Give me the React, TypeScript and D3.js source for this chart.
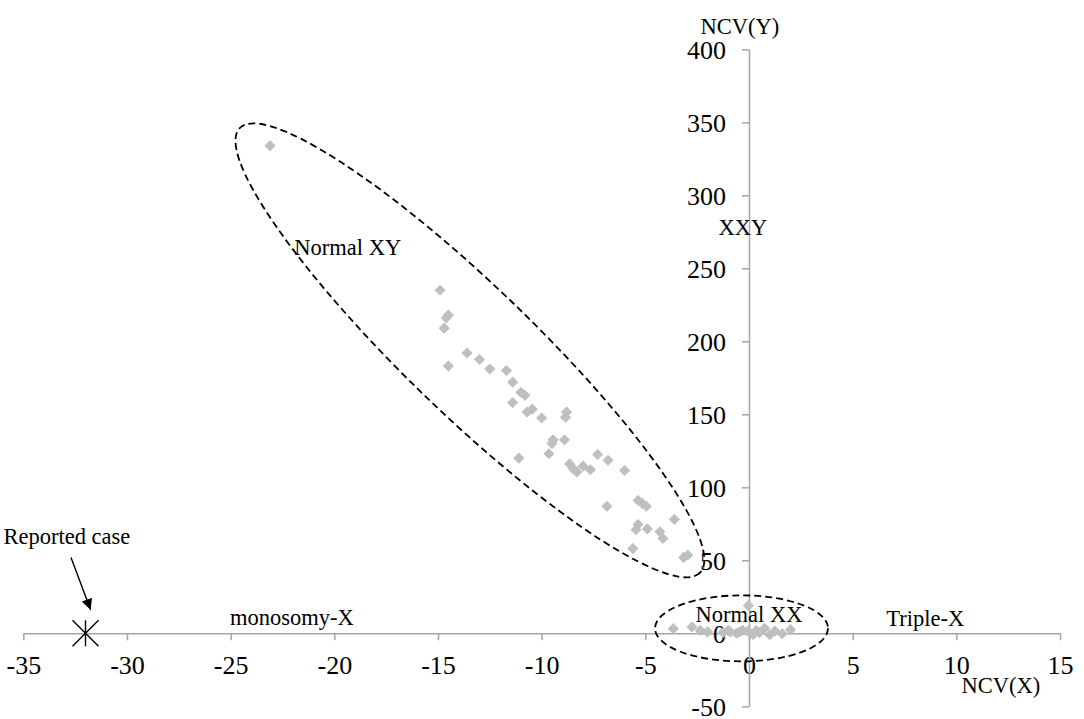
import React, { useEffect, useRef } from "react";
import * as d3 from "d3";

// NCV(X), NCV(Y) pairs
const normalXY: [number, number][] = [
  [-23.1, 334], [-14.9, 235], [-14.5, 218], [-14.6, 216], [-14.7, 209],
  [-14.5, 183], [-13.6, 192], [-13.0, 187.5], [-12.5, 181], [-11.7, 180],
  [-11.4, 172], [-11.0, 165], [-10.8, 163], [-11.4, 158], [-10.7, 151.5],
  [-10.45, 153.5], [-10.0, 147.5], [-8.8, 151.5], [-8.85, 148], [-9.45, 132.5],
  [-9.5, 130], [-8.9, 132.5], [-9.65, 123], [-11.1, 120], [-8.65, 116],
  [-8.5, 113], [-8.3, 110.5], [-8.0, 114.5], [-7.65, 112], [-7.3, 122.5],
  [-6.8, 118.5], [-6.0, 111.5], [-6.85, 87], [-5.35, 91], [-5.15, 89],
  [-4.95, 87], [-3.6, 78], [-5.35, 74.5], [-5.45, 71], [-4.9, 71.5],
  [-4.3, 69.5], [-4.15, 65], [-5.6, 58], [-3.15, 52], [-2.95, 53.5],
];

const normalXX: [number, number][] = [
  [-3.65, 3.2], [-2.75, 4.3], [-2.35, 2], [-2.0, 1], [-1.25, 0.5],
  [-1.0, 2], [-0.9, 1], [-0.6, 0], [-0.45, 1], [-0.3, 2], [-0.05, 1.5],
  [0.2, -1], [0.35, 2], [0.5, 0.5], [0.75, 3.4], [1.0, -1], [1.25, 1.5],
  [1.6, -0.3], [2.0, 2.5], [-0.03, 19],
];

const reportedCase: [number, number] = [-32, 0];

const xTicks = [-35, -30, -25, -20, -15, -10, -5, 0, 5, 10, 15];
const yTicks = [-50, 0, 50, 100, 150, 200, 250, 300, 350, 400];

// group labels, placed in data units
const labels = [
  { text: "Normal XY", x: -19.35, y: 264 },
  { text: "XXY", x: -0.3, y: 278 },
  { text: "Normal XX", x: 0, y: 13 },
  { text: "Triple-X", x: 8.5, y: 10 },
  { text: "monosomy-X", x: -22.05, y: 11 },
  { text: "Reported case", x: -32.9, y: 66 },
];

const W = 1084;
const H = 719;
const FONT = "'Liberation Serif', 'Times New Roman', serif";
const AXIS = "#a6a6a6";
const POINT = "#bfbfbf";

export default function App() {
  const svgRef = useRef<SVGSVGElement | null>(null);

  useEffect(() => {
    if (!svgRef.current) return;
    const svg = d3.select(svgRef.current);
    svg.selectAll("*").remove();

    const x = d3.scaleLinear().domain([-35, 15]).range([23.3, 1060]);
    const y = d3.scaleLinear().domain([-50, 400]).range([706.3, 49.3]);
    const fmt = (d: any) => String(d); // plain hyphen minus, like the source

    const defs = svg.append("defs");
    defs
      .append("marker")
      .attr("id", "arrow")
      .attr("viewBox", "0 0 10 10")
      .attr("refX", 10)
      .attr("refY", 5)
      .attr("markerWidth", 11)
      .attr("markerHeight", 11)
      .attr("markerUnits", "userSpaceOnUse")
      .attr("orient", "auto")
      .append("path")
      .attr("d", "M0,0 L10,5 L0,10 z")
      .attr("fill", "#000");

    // X axis
    const gx = svg
      .append("g")
      .attr("transform", `translate(0,${y(0)})`)
      .call(d3.axisBottom(x).tickValues(xTicks).tickFormat(fmt).tickSize(7).tickSizeOuter(0) as any);
    gx.select(".domain").attr("stroke", AXIS).attr("stroke-width", 1.5);
    gx.selectAll(".tick line").attr("stroke", AXIS).attr("stroke-width", 1.5);
    gx.selectAll(".tick text")
      .attr("y", 32)
      .attr("dy", "0.35em")
      .attr("fill", "#000")
      .style("font-family", FONT)
      .style("font-size", "26px");

    // Y axis
    const gy = svg
      .append("g")
      .attr("transform", `translate(${x(0)},0)`)
      .call(d3.axisLeft(y).tickValues(yTicks).tickFormat(fmt).tickSize(7).tickSizeOuter(0) as any);
    gy.select(".domain").attr("stroke", AXIS).attr("stroke-width", 1.5);
    gy.selectAll(".tick line").attr("stroke", AXIS).attr("stroke-width", 1.5);
    gy.selectAll(".tick text")
      .attr("x", -23)
      .attr("dy", "0.35em")
      .attr("fill", "#000")
      .style("font-family", FONT)
      .style("font-size", "26px");

    // axis titles
    svg
      .append("text")
      .attr("x", x(0) - 9)
      .attr("y", 26)
      .attr("text-anchor", "middle")
      .attr("dominant-baseline", "central")
      .style("font-family", FONT)
      .style("font-size", "22.5px")
      .text("NCV(Y)");
    svg
      .append("text")
      .attr("x", x(12.15))
      .attr("y", 685)
      .attr("text-anchor", "middle")
      .attr("dominant-baseline", "central")
      .style("font-family", FONT)
      .style("font-size", "22.5px")
      .text("NCV(X)");

    // dashed ellipses around the groups
    const xyCenter: [number, number] = [-13.46, 193.8];
    svg
      .append("ellipse")
      .attr("cx", 0)
      .attr("cy", 0)
      .attr("rx", 320)
      .attr("ry", 64)
      .attr("transform", `translate(${x(xyCenter[0])},${y(xyCenter[1])}) rotate(44)`)
      .attr("fill", "none")
      .attr("stroke", "#000")
      .attr("stroke-width", 1.8)
      .attr("stroke-dasharray", "7 4");

    const xxCenter: [number, number] = [-0.36, 3.4];
    svg
      .append("ellipse")
      .attr("cx", x(xxCenter[0]))
      .attr("cy", y(xxCenter[1]))
      .attr("rx", x(xxCenter[0] + 4.17) - x(xxCenter[0]))
      .attr("ry", y(xxCenter[1]) - y(xxCenter[1] + 22.6))
      .attr("fill", "none")
      .attr("stroke", "#000")
      .attr("stroke-width", 1.8)
      .attr("stroke-dasharray", "7 4");

    // diamonds
    const diamond = d3.symbol().type(d3.symbolSquare).size(62);
    svg
      .append("g")
      .selectAll("path")
      .data([...normalXY, ...normalXX])
      .join("path")
      .attr("d", diamond as any)
      .attr("transform", d => `translate(${x(d[0])},${y(d[1])}) rotate(45)`)
      .attr("fill", POINT);

    // reported case star
    const cx = x(reportedCase[0]);
    const cy = y(reportedCase[1]);
    const r = 13;
    svg
      .append("path")
      .attr(
        "d",
        `M${cx - r},${cy - r}L${cx + r},${cy + r}M${cx - r},${cy + r}L${cx + r},${cy - r}M${cx},${cy - r}L${cx},${cy + r}`
      )
      .attr("stroke", "#000")
      .attr("stroke-width", 1.4)
      .attr("fill", "none");

    // arrow to reported case
    svg
      .append("line")
      .attr("x1", x(-32.7))
      .attr("y1", y(52))
      .attr("x2", x(-31.75))
      .attr("y2", y(16))
      .attr("stroke", "#000")
      .attr("stroke-width", 1.4)
      .attr("marker-end", "url(#arrow)");

    // group labels
    svg
      .append("g")
      .selectAll("text")
      .data(labels)
      .join("text")
      .attr("x", d => x(d.x))
      .attr("y", d => y(d.y))
      .attr("text-anchor", "middle")
      .attr("dominant-baseline", "central")
      .style("font-family", FONT)
      .style("font-size", "22.5px")
      .text(d => d.text);
  }, []);

  return (
    <div style={{ position: "absolute", left: 0, top: 0 }}>
      <svg ref={svgRef} width={W} height={H} style={{ background: "#fff", display: "block" }} />
    </div>
  );
}
